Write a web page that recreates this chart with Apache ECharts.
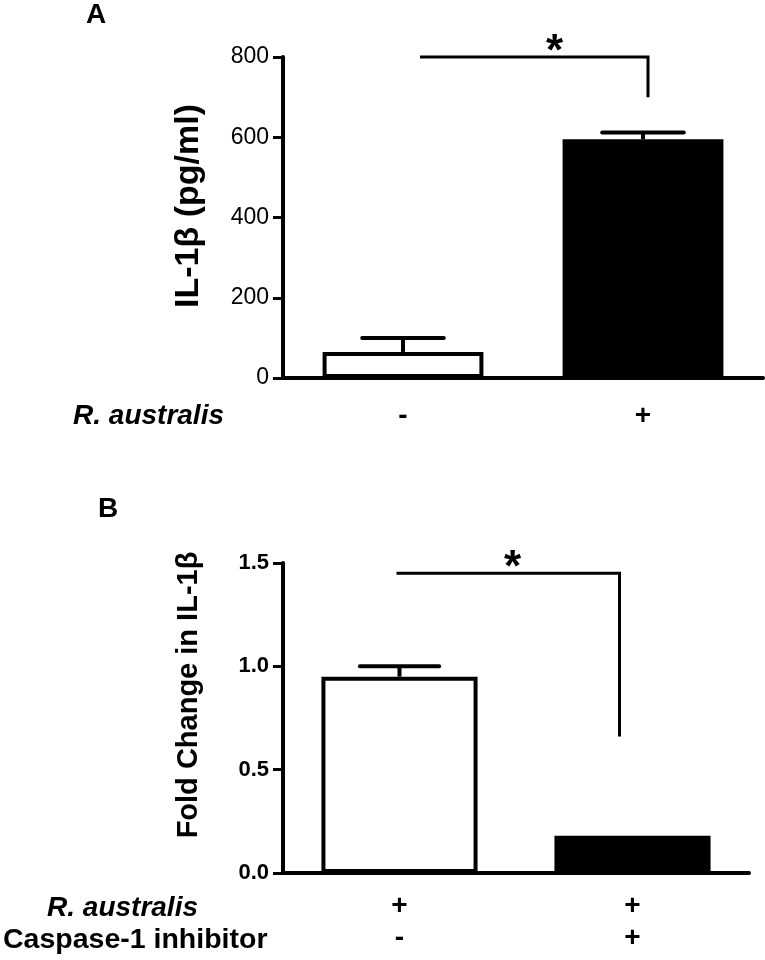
<!DOCTYPE html>
<html><head><meta charset="utf-8">
<script src="https://cdn.jsdelivr.net/npm/echarts@6/dist/echarts.min.js"></script>
<style>html,body{margin:0;padding:0;background:#fff}#c{width:765px;height:960px}</style>
</head><body><div id="c"></div>
<script>
// ---- data ----
const categoriesA = ['-', '+'];
const meanA = [65, 595];
const errA = [35, 17];
const categoriesB = ['+\n-', '+\n+'];
const meanB = [0.95, 0.18];
const errB = [0.05, 0];
const bracketA = [[0, 1, 800, 700]];   // from cat, to cat, bracket level, drop end
const bracketB = [[0, 1, 1.45, 0.66]];
const yLabelA = 'IL-1β (pg/ml)';
const yLabelB = 'Fold Change in IL-1β';
const rowLabelsB = ['R. australis', 'Caspase-1 inhibitor'];

const FONT = '"Liberation Sans", Arial, Helvetica, sans-serif';

function errRender(params, api) {
  const x = api.value(0), m = api.value(1), t = api.value(2);
  if (!(t > m)) return null;
  const p0 = api.coord([x, m]);
  const p1 = api.coord([x, t]);
  const half = api.size([1, 0])[0] * 0.17;
  return { type: 'group', children: [
    { type: 'line', shape: { x1: p0[0], y1: p0[1], x2: p1[0], y2: p1[1] }, style: { stroke: '#000', lineWidth: 4 } },
    { type: 'line', shape: { x1: p1[0] - half, y1: p1[1], x2: p1[0] + half, y2: p1[1] }, style: { stroke: '#000', lineWidth: 4, lineCap: 'round' } }
  ]};
}
function bracketRender(offL, offR, frac) {
  return function (params, api) {
    const a = api.coord([api.value(0), api.value(2)]);
    const b = api.coord([api.value(1), api.value(2)]);
    const c = api.coord([api.value(1), api.value(3)]);
    const xl = a[0] + offL, xr = b[0] + offR;
    return { type: 'group', children: [
      { type: 'polyline', shape: { points: [[xl, a[1]], [xr, b[1]], [xr, c[1]]] }, style: { stroke: '#000', lineWidth: 3, fill: null } },
      { type: 'text', x: xl + (xr - xl) * frac, y: a[1] - 4, style: { text: '*', fontSize: 44, fontWeight: 'bold', fontFamily: FONT, fill: '#000', align: 'center', verticalAlign: 'middle' } }
    ]};
  };
}

const axisLineStyle = { color: '#000', width: 4 };
const chart = echarts.init(document.getElementById('c'), null, { renderer: 'canvas' });
chart.setOption({
  animation: false,
  backgroundColor: '#fff',
  grid: [
    { left: 283, top: 57, width: 480, height: 321 },
    { left: 283, top: 563, width: 466, height: 310 }
  ],
  xAxis: [
    { gridIndex: 0, type: 'category', data: categoriesA,
      axisLine: { lineStyle: axisLineStyle },
      axisTick: { alignWithLabel: true, length: 10, lineStyle: { color: '#000', width: 3 } },
      axisLabel: { fontSize: 28, fontWeight: 'bold', color: '#000', fontFamily: FONT, margin: 24 } },
    { gridIndex: 1, type: 'category', data: categoriesB,
      axisLine: { lineStyle: axisLineStyle },
      axisTick: { alignWithLabel: true, length: 10, lineStyle: { color: '#000', width: 3 } },
      axisLabel: { fontSize: 28, fontWeight: 'bold', color: '#000', fontFamily: FONT, margin: 17, lineHeight: 32 } }
  ],
  yAxis: [
    { gridIndex: 0, type: 'value', min: 0, max: 800, interval: 200,
      splitLine: { show: false },
      axisLine: { show: true, lineStyle: axisLineStyle },
      axisTick: { show: true, length: 10, lineStyle: { color: '#000', width: 3 } },
      axisLabel: { fontSize: 23, color: '#000', fontFamily: FONT, margin: 14 } },
    { gridIndex: 1, type: 'value', min: 0, max: 1.5, interval: 0.5,
      splitLine: { show: false },
      axisLine: { show: true, lineStyle: axisLineStyle },
      axisTick: { show: true, length: 10, lineStyle: { color: '#000', width: 3 } },
      axisLabel: { fontSize: 22, fontWeight: 'bold', color: '#000', fontFamily: FONT, margin: 14,
        formatter: v => v.toFixed(1) } }
  ],
  series: [
    { type: 'bar', xAxisIndex: 0, yAxisIndex: 0, barWidth: '67%',
      data: meanA.map((v, i) => ({ value: v, itemStyle: i === 0 ? { color: '#fff', borderColor: '#000', borderWidth: 4 } : { color: '#000' } })) },
    { type: 'custom', xAxisIndex: 0, yAxisIndex: 0, renderItem: errRender, encode: { x: 0, y: [1, 2] },
      data: meanA.map((m, i) => [i, m, m + errA[i]]), z: 5 },
    { type: 'custom', xAxisIndex: 0, yAxisIndex: 0, renderItem: bracketRender(17, 5, 0.59), encode: { x: [0, 1], y: [2, 3] },
      data: bracketA, clip: false },
    { type: 'bar', xAxisIndex: 1, yAxisIndex: 1, barWidth: '67%',
      data: meanB.map((v, i) => ({ value: v, itemStyle: i === 0 ? { color: '#fff', borderColor: '#000', borderWidth: 4 } : { color: '#000' } })) },
    { type: 'custom', xAxisIndex: 1, yAxisIndex: 1, renderItem: errRender, encode: { x: 0, y: [1, 2] },
      data: meanB.map((m, i) => [i, m, m + errB[i]]), z: 5 },
    { type: 'custom', xAxisIndex: 1, yAxisIndex: 1, renderItem: bracketRender(-3, -13, 0.52), encode: { x: [0, 1], y: [2, 3] },
      data: bracketB, clip: false }
  ],
  graphic: [
    { type: 'text', left: 86, top: 1, style: { text: 'A', fontSize: 28, fontWeight: 'bold', fontFamily: FONT, fill: '#000' } },
    { type: 'text', left: 98, top: 495, style: { text: 'B', fontSize: 28, fontWeight: 'bold', fontFamily: FONT, fill: '#000' } },
    { type: 'text', x: 189, y: 206, rotation: Math.PI / 2, style: { text: yLabelA, fontSize: 34, fontWeight: 'bold', fontFamily: FONT, fill: '#000', align: 'center', verticalAlign: 'middle' } },
    { type: 'text', x: 189, y: 695, rotation: Math.PI / 2, style: { text: yLabelB, fontSize: 29, fontWeight: 'bold', fontFamily: FONT, fill: '#000', align: 'center', verticalAlign: 'middle' } },
    { type: 'text', x: 224, y: 416, style: { text: rowLabelsB[0], fontSize: 28, fontWeight: 'bold', fontStyle: 'italic', fontFamily: FONT, fill: '#000', align: 'right', verticalAlign: 'middle' } },
    { type: 'text', x: 198, y: 908, style: { text: rowLabelsB[0], fontSize: 28, fontWeight: 'bold', fontStyle: 'italic', fontFamily: FONT, fill: '#000', align: 'right', verticalAlign: 'middle' } },
    { type: 'text', x: 3, y: 940, style: { text: rowLabelsB[1], fontSize: 28.5, fontWeight: 'bold', fontFamily: FONT, fill: '#000', align: 'left', verticalAlign: 'middle' } }
  ]
});
</script>
</body></html>
